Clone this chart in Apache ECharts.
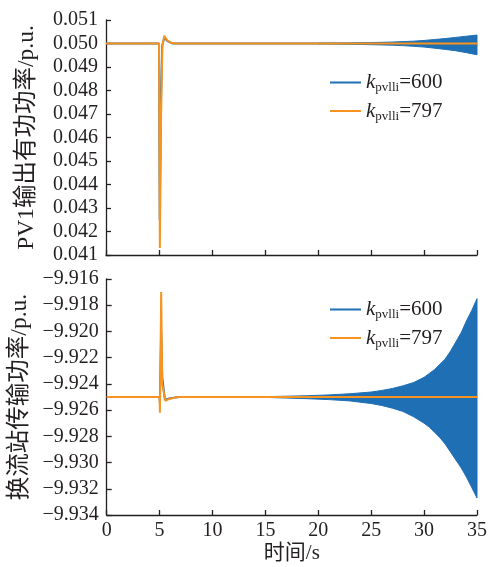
<!DOCTYPE html>
<html lang="zh">
<head>
  <meta charset="UTF-8">
  <script src="https://cdn.jsdelivr.net/npm/echarts@6/dist/echarts.min.js"></script>
  <title>PV1 / 换流站</title>
</head>
<style>
  html, body { margin: 0; height: 100%; background: #fff; }
  #chart { width: 490px; height: 567px; }
</style>
<body>
  <div id="chart"></div>
  <script type="text/javascript">
    // 图例 (k_pvlli 取值)
    var gainNames = ['600', '797'];
    var xTicks = [0, 5, 10, 15, 20, 25, 30, 35];

    // 上图: PV1输出有功功率, [t, p.u.]
    var pvBlue = [[0, 0.0500], [5.0, 0.0500], [5.07, 0.0425], [5.18, 0.0475], [5.3, 0.0499],
      [5.5, 0.05025], [5.8, 0.05010], [6.3, 0.0500], [35, 0.0500]];
    var pvOrange = [[0, 0.0500], [5.0, 0.0500], [5.08, 0.0413], [5.2, 0.0470], [5.32, 0.0499],
      [5.5, 0.05033], [5.75, 0.05015], [6.1, 0.05003], [6.6, 0.0500], [35, 0.0500]];
    // 上图 k=600 振荡包络
    var pvEnvT = [20, 23, 25, 27, 28, 29, 30, 31, 32, 33, 34, 35];
    var pvEnvHi = [0.05001, 0.05002, 0.05004, 0.05006, 0.05008, 0.05010, 0.05013, 0.05017, 0.05021, 0.05026, 0.05031, 0.05036];
    var pvEnvLo = [0.04999, 0.04997, 0.04995, 0.04993, 0.04991, 0.04988, 0.04985, 0.04980, 0.04975, 0.04969, 0.04961, 0.04952];

    // 下图: 换流站传输功率, [t, p.u.]
    var vscBlue = [[0, -9.925], [5.0, -9.925], [5.03, -9.9255], [5.15, -9.9200], [5.25, -9.9235],
      [5.5, -9.9252], [5.9, -9.92512], [6.8, -9.925], [35, -9.925]];
    var vscOrange = [[0, -9.925], [5.0, -9.925], [5.03, -9.9262], [5.15, -9.9170], [5.25, -9.9240],
      [5.55, -9.9253], [5.9, -9.92515], [6.6, -9.92502], [7, -9.925], [35, -9.925]];
    // 下图 k=600 振荡包络
    var vscEnvT = [15, 17, 19, 21, 23, 25, 26, 27, 28, 29, 30, 30.5, 31, 31.5, 32, 32.5, 33, 33.5, 34, 34.5, 35];
    var vscEnvHi = [-9.92497, -9.92494, -9.9249, -9.92484, -9.92475, -9.92462, -9.9245, -9.92435, -9.92415,
      -9.9239, -9.9235, -9.9232, -9.9229, -9.9225, -9.9221, -9.9215, -9.9208, -9.9201, -9.9192, -9.9184, -9.9175];
    var vscEnvLo = [-9.92503, -9.92508, -9.92513, -9.9252, -9.9253, -9.9255, -9.92565, -9.92585, -9.9261,
      -9.9265, -9.9270, -9.9273, -9.9277, -9.9281, -9.9286, -9.9292, -9.9298, -9.9304, -9.9311, -9.9319, -9.9327];

    var BLUE = '#1f6fb5';
    var ORANGE = '#f7931e';
    var INK = '#231f20';
    var SERIF = '"Liberation Serif", "Times New Roman", "Noto Sans CJK SC", serif';

    function fmt(v) {
      return v.toFixed(3).replace('-', '\u2212');
    }

    // 包络带: 只在第一个数据项画整块多边形
    function bandRender(t, lo, hi) {
      return function (params, api) {
        if (params.dataIndex !== 0) return null;
        var pts = [];
        for (var i = 0; i < t.length; i++) pts.push(api.coord([t[i], hi[i]]));
        for (var j = t.length - 1; j >= 0; j--) pts.push(api.coord([t[j], lo[j]]));
        return {
          type: 'polygon',
          shape: { points: pts },
          style: { fill: BLUE, stroke: BLUE, lineWidth: 1 }
        };
      };
    }

    function bandData(t, lo, hi) {
      return t.map(function (x, i) { return [x, lo[i], hi[i]]; });
    }

    function xAxis(idx, showLabel) {
      return {
        type: 'value', gridIndex: idx, min: 0, max: 35, interval: 5,
        axisLine: { lineStyle: { color: INK, width: 1.3 } },
        axisTick: { inside: true, length: 5, lineStyle: { color: INK, width: 1.3 } },
        axisLabel: { show: showLabel, color: INK, fontFamily: SERIF, fontSize: 20, margin: 6 },
        splitLine: { show: false },
        name: showLabel ? '时间/s' : '',
        nameLocation: 'middle', nameGap: 28,
        nameTextStyle: { color: INK, fontFamily: SERIF, fontSize: 21 }
      };
    }

    function yAxis(idx, min, max, step, name) {
      return {
        type: 'value', gridIndex: idx, min: min, max: max, interval: step,
        axisLine: { show: true, lineStyle: { color: INK, width: 1.3 } },
        axisTick: { show: true, inside: true, length: 5, lineStyle: { color: INK, width: 1.3 } },
        axisLabel: { color: INK, fontFamily: SERIF, fontSize: 20, margin: 8, formatter: fmt },
        splitLine: { show: false },
        name: name, nameLocation: 'middle', nameRotate: 90, nameGap: 67,
        nameTextStyle: { color: INK, fontFamily: SERIF, fontSize: 23.5 }
      };
    }

    function legend(top) {
      return {
        data: gainNames, orient: 'vertical', left: 325, top: top,
        icon: 'rect', itemWidth: 31, itemHeight: 2, itemGap: 6,
        formatter: function (name) { return '{k|k}{s|pvlli}{n|=' + name + '}'; },
        textStyle: {
          color: INK,
          rich: {
            k: { fontFamily: SERIF, fontStyle: 'italic', fontSize: 21, lineHeight: 24, verticalAlign: 'middle', color: INK },
            s: { fontFamily: SERIF, fontSize: 13, lineHeight: 12, verticalAlign: 'bottom', color: INK },
            n: { fontFamily: SERIF, fontSize: 21, lineHeight: 24, verticalAlign: 'middle', color: INK }
          }
        }
      };
    }

    var chart = echarts.init(document.getElementById('chart'));
    var option = {
      animation: false,
      grid: [
        { left: 106, right: 13, top: 20, height: 235 },
        { left: 106, right: 13, top: 279, height: 236 }
      ],
      legend: [legend(67), legend(294)],
      xAxis: [xAxis(0, false), xAxis(1, true)],
      yAxis: [
        yAxis(0, 0.041, 0.051, 0.001, 'PV1输出有功功率/p.u.'),
        yAxis(1, -9.934, -9.916, 0.002, '换流站传输功率/p.u.')
      ],
      series: [
        { type: 'custom', xAxisIndex: 0, yAxisIndex: 0, renderItem: bandRender(pvEnvT, pvEnvLo, pvEnvHi),
          data: bandData(pvEnvT, pvEnvLo, pvEnvHi), encode: { x: 0, y: [1, 2] }, silent: true },
        { name: '600', type: 'line', xAxisIndex: 0, yAxisIndex: 0, data: pvBlue,
          showSymbol: false, lineStyle: { color: BLUE, width: 2 }, itemStyle: { color: BLUE } },
        { name: '797', type: 'line', xAxisIndex: 0, yAxisIndex: 0, data: pvOrange,
          showSymbol: false, lineStyle: { color: ORANGE, width: 2 }, itemStyle: { color: ORANGE } },

        { type: 'custom', xAxisIndex: 1, yAxisIndex: 1, renderItem: bandRender(vscEnvT, vscEnvLo, vscEnvHi),
          data: bandData(vscEnvT, vscEnvLo, vscEnvHi), encode: { x: 0, y: [1, 2] }, silent: true },
        { name: '600', type: 'line', xAxisIndex: 1, yAxisIndex: 1, data: vscBlue,
          showSymbol: false, lineStyle: { color: BLUE, width: 2 }, itemStyle: { color: BLUE } },
        { name: '797', type: 'line', xAxisIndex: 1, yAxisIndex: 1, data: vscOrange,
          showSymbol: false, lineStyle: { color: ORANGE, width: 2 }, itemStyle: { color: ORANGE } }
      ]
    };
    chart.setOption(option);
  </script>
</body>
</html>
